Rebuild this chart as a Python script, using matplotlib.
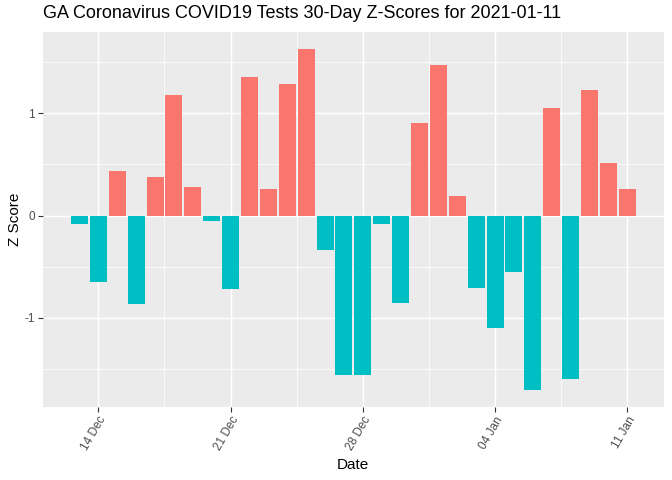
import matplotlib
matplotlib.use("Agg")
import matplotlib.pyplot as plt
import matplotlib.dates as mdates
from matplotlib.ticker import FixedLocator
import pandas as pd
import numpy as np

plt.rcParams['font.family'] = ['Liberation Sans', 'DejaVu Sans']

start_date = "2020-12-13"
end_date = "2021-01-11"
z_scores = [-0.08, -0.645, 0.434, -0.86, 0.375, 1.18, 0.277, -0.05, -0.72, 1.356,
            0.258, 1.287, 1.63, -0.34, -1.56, -1.56, -0.085, -0.85, 0.905, 1.473,
            0.189, -0.71, -1.098, -0.55, -1.70, 1.052, -1.60, 1.228, 0.513, 0.258]
tick_dates = ["2020-12-14", "2020-12-21", "2020-12-28", "2021-01-04", "2021-01-11"]
title = "GA Coronavirus COVID19 Tests 30-Day Z-Scores for 2021-01-11"

dates = pd.date_range(start_date, end_date, freq="D")
xd = mdates.date2num(dates.to_pydatetime())
vals = np.array(z_scores)
colors = np.where(vals > 0, "#F8766D", "#00BFC4")

fig = plt.figure(figsize=(6.72, 4.8), dpi=100)
ax = fig.add_axes([42.7/672, 1-406.7/480, (664-42.7)/672, (406.7-31.7)/480])
ax.set_facecolor("#EBEBEB")

ax.bar(xd, vals, width=0.9, color=colors, linewidth=0, zorder=3)

# limits like ggplot expansion
xlo, xhi = xd.min() - 0.45, xd.max() + 0.45
xr = xhi - xlo
ax.set_xlim(xlo - 0.05*xr, xhi + 0.05*xr)
ylo, yhi = min(vals.min(), 0), max(vals.max(), 0)
yr = yhi - ylo
ax.set_ylim(ylo - 0.05*yr, yhi + 0.05*yr)

tnum = mdates.date2num(pd.to_datetime(tick_dates).to_pydatetime())
ax.xaxis.set_major_locator(FixedLocator(tnum))
ax.set_xticklabels(pd.to_datetime(tick_dates).strftime("%d %b"))
minor_x = list(tnum[:-1] + 3.5) + [tnum[0] - 3.5, tnum[-1] + 3.5]
ax.xaxis.set_minor_locator(FixedLocator(minor_x))
ax.yaxis.set_major_locator(FixedLocator([-1, 0, 1]))
ax.set_yticklabels(["-1", "0", "1"])
ax.yaxis.set_minor_locator(FixedLocator([-1.5, -0.5, 0.5, 1.5]))

ax.grid(which="major", color="white", linewidth=1.07, zorder=0)
ax.grid(which="minor", color="white", linewidth=0.53, zorder=0)
ax.set_axisbelow(True)
for s in ax.spines.values():
    s.set_visible(False)

ax.tick_params(which="major", length=3.5, width=0.8, color="#333333",
               labelcolor="#4D4D4D", labelsize=8.5, pad=2)
ax.tick_params(which="minor", length=0)
for lab in ax.get_xticklabels():
    lab.set_rotation(60)
    lab.set_ha("right")
    lab.set_va("top")
    lab.set_rotation_mode("anchor")

ax.set_xlabel("Date", fontsize=11, color="black", labelpad=4)
ax.set_ylabel("Z Score", fontsize=11, color="black", labelpad=2)
fig.text(42.7/672, 1-14/480, title, fontsize=13, color="black", ha="left", va="center")

fig.savefig("out.png", dpi=100)
